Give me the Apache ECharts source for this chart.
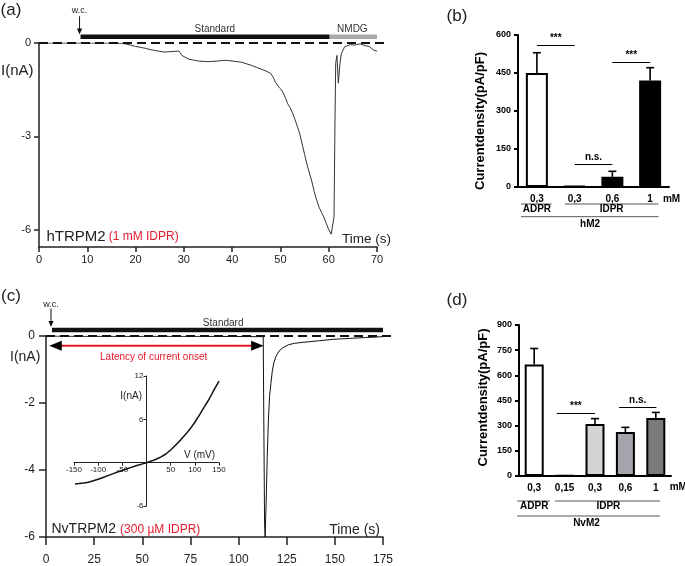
<!DOCTYPE html>
<html><head><meta charset="utf-8">
<script src="https://cdn.jsdelivr.net/npm/echarts@6/dist/echarts.min.js"></script>
<style>html,body{margin:0;padding:0;background:#fff}#c{width:685px;height:566px}</style>
</head><body><div id="c"></div>
<script>
const FONT = '"Liberation Sans", Arial, Helvetica, sans-serif';
const RED = '#e8192c';

// ---------- Panel (a): hTRPM2 whole-cell current trace (t in s, I in nA)
const traceA = [[0,0],[5,0],[10,0],[15,0],[17,-0.01],[18,-0.03],[19,-0.07],[20,-0.11],[21,-0.14],[22,-0.17],[23,-0.21],[24,-0.24],[25,-0.27],[26,-0.29],[27,-0.28],[28,-0.27],[29,-0.26],[29.3,-0.3],[29.6,-0.4],[30,-0.46],[31,-0.52],[32,-0.55],[33,-0.58],[34,-0.59],[35,-0.6],[36,-0.59],[37,-0.58],[38,-0.56],[39,-0.56],[40,-0.58],[41,-0.6],[42,-0.62],[43,-0.67],[44,-0.72],[45,-0.78],[46,-0.84],[47,-0.9],[48,-0.98],[48.5,-1.1],[49,-1.27],[49.5,-1.38],[50,-1.47],[50.5,-1.58],[51,-1.75],[51.5,-1.95],[52,-2.08],[52.5,-2.25],[53,-2.45],[53.5,-2.68],[54,-2.92],[54.5,-3.25],[55,-3.58],[55.5,-3.9],[56,-4.18],[56.5,-4.45],[57,-4.78],[57.5,-5.05],[58,-5.28],[58.5,-5.45],[59,-5.6],[59.5,-5.8],[60,-6.0],[60.5,-6.15],[60.9,-6.2],[61.1,-5.6],[61.3,-2.5],[61.45,-0.65],[61.7,-0.4],[61.9,-0.45],[62.0,-1.29],[62.2,-1.25],[62.3,-0.7],[62.6,-0.35],[62.9,-0.25],[63.3,-0.12],[64,-0.08],[64.5,-0.05],[65.4,-0.07],[66,-0.04],[66.5,-0.03],[67.5,-0.08],[68.5,-0.12],[69.2,-0.22],[70,-0.26]];
const aXRange = [0, 70, 10];
const aYTicks = [0, -3, -6];

// ---------- Panel (c): NvTRPM2 trace
const traceC = [[0,0],[20,-0.01],[50,-0.01],[80,-0.01],[112.8,-0.02],[113.1,-2.5],[113.5,-5.6],[113.8,-6.0],[114.3,-5.0],[114.9,-3.6],[115.5,-2.5],[116.1,-1.8],[116.8,-1.41],[117.5,-1.05],[118.3,-0.8],[119.5,-0.6],[121,-0.45],[123,-0.35],[126,-0.26],[129,-0.22],[133,-0.19],[137,-0.17],[142,-0.14],[149,-0.1],[158,-0.07],[166,-0.045],[175,-0.02]];
const cXRange = [0, 175, 25];
const cYRange = [-6, 0, 2];

// ---------- Inset: I-V curve (V in mV, I in nA)
const ivCurve = [[-148,-2.95],[-140,-2.9],[-130,-2.82],[-120,-2.7],[-110,-2.5],[-100,-2.3],[-90,-2.05],[-80,-1.8],[-70,-1.55],[-60,-1.3],[-50,-1.08],[-40,-0.85],[-30,-0.62],[-20,-0.4],[-10,-0.2],[0,0],[10,0.22],[20,0.48],[30,0.8],[40,1.2],[50,1.75],[60,2.4],[70,3.1],[80,3.85],[90,4.65],[100,5.6],[110,6.65],[120,7.75],[130,8.85],[140,10.1],[150,11.3]];
const ivXRange = [-150, 150];
const ivYRange = [-6, 12];
const ivXTicks = [-150,-100,-50,50,100,150];
const ivYTicks = [-6, 6, 12];

// ---------- Panel (b): hM2 current density
const bCategories = ['0,3','0,3','0,6','1'];
const bValues = [450, 4, 40, 420];
const bErrTop = [530, 4, 62, 471];
const bColors = ['#ffffff','#000000','#000000','#000000'];
const bSig = [[0,1,558,'***'],[1,2,90,'n.s.'],[2,3,492,'***']];

// ---------- Panel (d): NvM2 current density
const dCategories = ['0,3','0,15','0,3','0,6','1'];
const dValues = [665, 3, 310, 262, 346];
const dErrTop = [760, 3, 342, 290, 379];
const dColors = ['#ffffff','#000000','#d4d4d4','#a4a4ac','#7a7a7a'];
const dSig = [[0.74,2,374,'***'],[2.79,4.02,409,'n.s.']];

const chart = echarts.init(document.getElementById('c'), null, {renderer:'canvas'});

const insetGrid = {left:74, top:376, width:145, height:130};

function traceAxisX(gi, r, fs, tickLen, margin){
  return {gridIndex:gi, type:'value', min:r[0], max:r[1], interval:r[2],
    axisLine:{onZero:false, lineStyle:{color:'#222', width:1.5}},
    axisTick:{length:tickLen, lineStyle:{color:'#222', width:1.5}},
    axisLabel:{fontSize:fs, color:'#222', margin:margin, fontFamily:FONT},
    splitLine:{show:false}};
}
function barAxisX(gi, cats){
  return {gridIndex:gi, type:'value', min:-0.5, max:cats.length-0.5,
    axisLine:{onZero:false, lineStyle:{color:'#000', width:2}},
    axisTick:{show:false},
    axisLabel:{customValues:cats.map((c,i)=>i), formatter:v=>cats[Math.round(v)], fontSize:10, fontWeight:'bold', color:'#000', margin:7, fontFamily:FONT},
    splitLine:{show:false}};
}
function barAxisY(gi, max, gap, pad){
  return {gridIndex:gi, type:'value', min:0, max:max, interval:150,
    name:'Currentdensity(pA/pF)', nameLocation:'middle', nameRotate:90, nameGap:gap,
    nameTextStyle:{fontSize:13, fontWeight:'bold', color:'#000', fontFamily:FONT, padding:pad},
    axisLine:{onZero:false, lineStyle:{color:'#000', width:2}},
    axisTick:{length:4, lineStyle:{color:'#000', width:2}},
    axisLabel:{fontSize:9, fontWeight:'bold', color:'#000', margin:7, fontFamily:FONT},
    splitLine:{show:false}};
}

function errSeries(xi, vals, errs){
  return {type:'custom', xAxisIndex:xi, yAxisIndex:xi, z:5, silent:true,
    data: vals.map((v,i)=>[i, v, errs[i]]),
    renderItem:function(params, api){
      const x=api.value(0), top=api.value(1), err=api.value(2);
      if (err <= top) return null;
      const p1 = api.coord([x, top]), p2 = api.coord([x, err]);
      return {type:'group', children:[
        {type:'line', shape:{x1:p1[0], y1:p1[1], x2:p2[0], y2:p2[1]}, style:{stroke:'#000', lineWidth:1.6}},
        {type:'line', shape:{x1:p2[0]-4, y1:p2[1], x2:p2[0]+4, y2:p2[1]}, style:{stroke:'#000', lineWidth:1.6}}
      ]};
    }};
}
function barSeries(xi, vals, colors, sig, bw){
  return {type:'bar', xAxisIndex:xi, yAxisIndex:xi, barWidth:bw, silent:true,
    itemStyle:{borderColor:'#000', borderWidth:2},
    data: vals.map((v,i)=>({value:[i, v], itemStyle:{color:colors[i]}})),
    markLine:{silent:true, symbol:'none', animation:false,
      lineStyle:{color:'#000', width:1, type:'solid'},
      label:{show:true, position:'insideMiddleTop', distance:2, formatter:'{b}', fontSize:10, fontWeight:'bold', color:'#000', fontFamily:FONT},
      emphasis:{disabled:true},
      data: sig.map(s=>[{name:s[3], coord:[s[0], s[2]]}, {coord:[s[1], s[2]]}])}
  };
}

const option = {
  animation:false,
  backgroundColor:'#fff',
  textStyle:{fontFamily:FONT},
  grid:[
    {left:39, top:43, width:338, height:204},
    {left:518, top:35, width:151, height:152},
    {left:46, top:336, width:337, height:202},
    {left:519, top:325, width:152, height:151},
    insetGrid
  ],
  xAxis:[
    traceAxisX(0, aXRange, 11, 5, 7),
    barAxisX(1, bCategories),
    traceAxisX(2, cXRange, 12, 8, 17),
    barAxisX(3, dCategories),
    {gridIndex:4, type:'value', min:ivXRange[0], max:ivXRange[1], position:'bottom',
      offset: -insetGrid.height * (0 - ivYRange[0]) / (ivYRange[1] - ivYRange[0]),
      axisLine:{onZero:false, lineStyle:{color:'#222', width:1}},
      axisTick:{customValues:ivXTicks, length:3, lineStyle:{color:'#222'}},
      axisLabel:{customValues:ivXTicks, fontSize:8, color:'#222', margin:3, fontFamily:FONT},
      splitLine:{show:false}}
  ],
  yAxis:[
    {gridIndex:0, type:'value', min:-6.56, max:0,
      axisLine:{onZero:false, lineStyle:{color:'#222', width:1.5}},
      axisTick:{customValues:aYTicks, length:5, lineStyle:{color:'#222', width:1.5}},
      axisLabel:{customValues:aYTicks, fontSize:11, color:'#222', margin:8, fontFamily:FONT},
      splitLine:{show:false}},
    barAxisY(1, 600, 31, [0,20,0,0]),
    {gridIndex:2, type:'value', min:cYRange[0], max:cYRange[1], interval:cYRange[2],
      axisLine:{onZero:false, lineStyle:{color:'#222', width:1.5}},
      axisTick:{length:7, lineStyle:{color:'#222', width:1.5}},
      axisLabel:{fontSize:12, color:'#222', margin:11, fontFamily:FONT},
      splitLine:{show:false}},
    barAxisY(3, 900, 29, [0,0,0,6]),
    {gridIndex:4, type:'value', min:ivYRange[0], max:ivYRange[1], position:'left',
      offset: -insetGrid.width * (0 - ivXRange[0]) / (ivXRange[1] - ivXRange[0]),
      axisLine:{onZero:false, lineStyle:{color:'#222', width:1}},
      axisTick:{customValues:ivYTicks, length:3, lineStyle:{color:'#222'}},
      axisLabel:{customValues:ivYTicks, fontSize:8, color:'#222', margin:3, fontFamily:FONT},
      splitLine:{show:false}}
  ],
  series:[
    {type:'line', xAxisIndex:0, yAxisIndex:0, data:traceA, showSymbol:false, silent:true,
      lineStyle:{color:'#333', width:1}},
    barSeries(1, bValues, bColors, bSig, 22),
    errSeries(1, bValues, bErrTop),
    {type:'line', xAxisIndex:2, yAxisIndex:2, data:traceC, showSymbol:false, silent:true,
      lineStyle:{color:'#111', width:1}},
    barSeries(3, dValues, dColors, dSig, 19),
    errSeries(3, dValues, dErrTop),
    {type:'line', xAxisIndex:4, yAxisIndex:4, data:ivCurve, showSymbol:false, silent:true,
      lineStyle:{color:'#111', width:1.5}}
  ]
};
chart.setOption(option);

const P = (gi, x, y) => chart.convertToPixel({gridIndex:gi}, [x, y]);
function T(x, y, text, fs, o){
  o = o || {};
  return {type:'text', x:x, y:y, silent:true, z:100, style:{text:text, fontSize:fs, fontFamily:FONT,
    fontWeight:o.bold?'bold':'normal', fill:o.color||'#222', textAlign:o.align||'center', textVerticalAlign:'middle', rich:o.rich}};
}
function L(x1,y1,x2,y2,c,w,dash){ const s = {stroke:c||'#000', lineWidth:w||1}; if (dash) s.lineDash = dash;
  return {type:'line', silent:true, z:100, shape:{x1,y1,x2,y2}, style:s}; }
function LD(gi, a, b, c, w, dash){ const p = P(gi, a[0], a[1]), q = P(gi, b[0], b[1]); return L(p[0], p[1], q[0], q[1], c, w, dash); }
function Tri(pts, c){ return {type:'polygon', silent:true, z:101, shape:{points:pts}, style:{fill:c||'#000'}}; }

const g = [];
// ---- panel (a)
g.push(T(11, 10, '(a)', 17, {color:'#222'}));
g.push(LD(0, [0,0], [72.3,0], '#111', 2, [9,5]));
g.push(LD(0, [8.6,0.2], [60.2,0.2], '#111', 4.5));
g.push(LD(0, [60.2,0.2], [70,0.2], '#aaaaaa', 4.5));
{ const t = P(0, 8.4, 1.03), s = P(0, 8.4, 0.86), e = P(0, 8.4, 0.27);
  g.push(T(t[0], t[1], 'w.c.', 9));
  g.push(L(s[0], s[1], e[0], e[1]-4, '#111', 1));
  g.push(Tri([[e[0]-2.6, e[1]-6],[e[0]+2.6, e[1]-6],[e[0], e[1]]], '#111')); }
{ const a = P(0, 36.4, 0.44); g.push(T(a[0], a[1], 'Standard', 10, {color:'#333'}));
  const b = P(0, 64.9, 0.44); g.push(T(b[0], b[1], 'NMDG', 10, {color:'#333'})); }
g.push(T(1, 71, 'I(nA)', 15, {align:'left'}));
g.push(T(391, 239.5, 'Time (s)', 13.5, {align:'right'}));
g.push(T(46.5, 236.5, '{a|hTRPM2}{b|(1 mM IDPR)}', 15, {align:'left', rich:{
  a:{fontSize:15, fontFamily:FONT, fill:'#222', color:'#222'},
  b:{fontSize:12, fontFamily:FONT, fill:RED, color:RED, padding:[0,0,0,3]}}}));

// ---- panel (c)
g.push(T(11, 296, '(c)', 17, {color:'#222'}));
g.push(LD(2, [0,0], [181.4,0], '#111', 2, [9,5]));
g.push(LD(2, [3.1,0.18], [175,0.18], '#111', 4.5));
{ const t = P(2, 2.6, 0.95), s = P(2, 2.6, 0.82), e = P(2, 2.6, 0.27);
  g.push(T(t[0], t[1], 'w.c.', 9));
  g.push(L(s[0], s[1], e[0], e[1]-4, '#111', 1));
  g.push(Tri([[e[0]-2.6, e[1]-6],[e[0]+2.6, e[1]-6],[e[0], e[1]]], '#111')); }
{ const a = P(2, 92, 0.38); g.push(T(a[0], a[1], 'Standard', 10, {color:'#333'})); }
{ const l = P(2, 1.7, -0.29), r = P(2, 113, -0.29);
  g.push(L(l[0]+8, l[1], r[0]-8, r[1], RED, 2));
  g.push(Tri([[l[0], l[1]],[l[0]+12.5, l[1]-5],[l[0]+12.5, l[1]+5]], '#000'));
  g.push(Tri([[r[0], r[1]],[r[0]-12.5, r[1]-5],[r[0]-12.5, r[1]+5]], '#000'));
  const m = P(2, 55.9, -0.633); g.push(T(m[0], m[1], 'Latency of current onset', 10, {color:RED})); }
g.push(T(10, 357.5, 'I(nA)', 14, {align:'left'}));
g.push(T(380, 530, 'Time (s)', 14, {align:'right'}));
g.push(T(51.5, 529.5, '{a|NvTRPM2}{b|(300 µM IDPR)}', 14, {align:'left', rich:{
  a:{fontSize:14, fontFamily:FONT, fill:'#222', color:'#222'},
  b:{fontSize:12, fontFamily:FONT, fill:RED, color:RED, padding:[0,0,0,4]}}}));
{ const o = P(4, 0, 0);
  g.push(T(o[0]-4.5, 396.7, 'I(nA)', 10, {align:'right'}));
  g.push(T(184, 455, 'V (mV)', 10, {align:'left'})); }

// ---- panel (b)
g.push(T(457, 16.5, '(b)', 17, {color:'#222'}));
{ const base = P(1, 0, 0)[1];
  const x = v => P(1, v, 0)[0];
  g.push(T(671.5, base+12, 'mM', 10, {bold:true, color:'#000'}));
  g.push(L(x(-0.42), base+17, x(0.39), base+17, '#555', 1));
  g.push(T(x(0), base+22.6, 'ADPR', 10, {bold:true, color:'#000'}));
  g.push(L(x(0.74), base+17, x(3.22), base+17, '#555', 1));
  g.push(T(x(1.98), base+22.6, 'IDPR', 10, {bold:true, color:'#000'}));
  g.push(L(x(-0.42), base+29.7, x(3.22), base+29.7, '#555', 1));
  g.push(T(x(1.41), base+37, 'hM2', 10, {bold:true, color:'#000'})); }

// ---- panel (d)
g.push(T(457, 300, '(d)', 17, {color:'#222'}));
{ const base = P(3, 0, 0)[1];
  const x = v => P(3, v, 0)[0];
  g.push(T(678.3, base+11.7, 'mM', 10, {bold:true, color:'#000'}));
  g.push(L(x(-0.56), base+25, x(0.52), base+25, '#555', 1));
  g.push(T(x(0), base+30, 'ADPR', 10, {bold:true, color:'#000'}));
  g.push(L(x(0.68), base+25, x(4.14), base+25, '#555', 1));
  g.push(T(x(2.44), base+30, 'IDPR', 10, {bold:true, color:'#000'}));
  g.push(L(x(-0.56), base+40, x(4.14), base+40, '#555', 1));
  g.push(T(x(1.72), base+47.3, 'NvM2', 10, {bold:true, color:'#000'})); }

chart.setOption({graphic:{elements:g}});
</script>
</body></html>
